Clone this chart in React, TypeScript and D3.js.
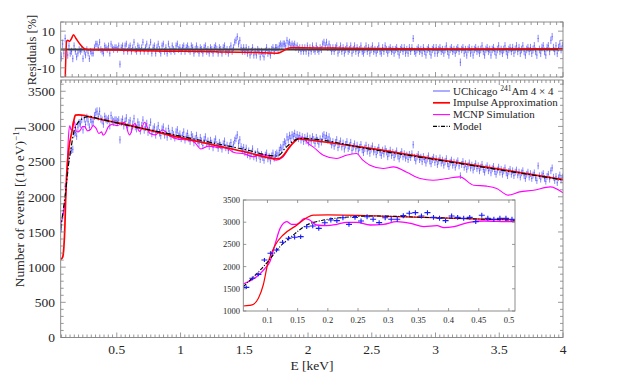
import React from 'react';
import * as d3 from 'd3';

// 10 eV bins, first bin centre at 65 eV
const binStart = 0.065;
const binWidth = 0.01;

// UChicago 241Am 4x4 spectrum, counts per bin
const counts = [
  1533, 1736, 1826, 2149, 2299, 2374, 2547, 2637, 2660, 2674, 2899, 2915, 2862, 2989, 3050,
  3035, 3101, 2952, 3109, 3027, 3124, 3065, 2990, 3101, 3065, 3065, 3147, 3200, 3215, 3140,
  3215, 3109, 3087, 3035, 3140, 3109, 3087, 3109, 3012, 3155, 3087, 3065, 3087, 3087, 3065,
  3090, 2810, 3060, 3100, 3010, 3070, 3120, 2990, 3050, 3080,
  2960, 3030, 3110, 3000, 2970, 3060, 3020, 2940, 3010, 3090,
  2950, 2990, 3040, 2920, 2980, 3060, 2900, 2960, 2990, 2880,
  2950, 3010, 2910, 2870, 2960, 2990, 2880, 2930, 2850, 2970,
  2900, 2860, 2940, 2880, 2840, 2920, 2950, 2860,
  2890, 2830, 2870, 2920, 2810, 2860, 2900, 2830, 2790, 2880,
  2850, 2770, 2820, 2870, 2800, 2760, 2840, 2790, 2730, 2810,
  2850, 2760, 2790, 2720, 2800, 2760, 2700, 2780, 2820, 2740,
  2690, 2770, 2730, 2680, 2750, 2790, 2700, 2730, 2660, 2720,
  2770, 2680, 2740, 2800, 2830, 2880, 2760, 2810, 2710, 2660,
  2700, 2630, 2690, 2600, 2650, 2580, 2620, 2680, 2570, 2610,
  2550, 2640, 2590, 2530, 2600, 2560, 2520, 2590, 2620, 2540,
  2570, 2510, 2580, 2620, 2550, 2600,
  2620, 2590, 2660, 2700, 2680, 2740, 2780, 2760, 2850, 2810,
  2870, 2830, 2880, 2860, 2900, 2840, 2880, 2830, 2870, 2810,
  2850, 2790, 2840, 2800, 2860, 2770, 2830, 2790, 2850, 2810,
  2760, 2840, 2800, 2750, 2820, 2780, 2860, 2880, 2830, 2870,
  2810, 2850, 2790, 2740, 2780, 2720, 2770, 2810, 2700, 2750,
  2790, 2710, 2760, 2680, 2740, 2780, 2690, 2720, 2770, 2660,
  2710, 2750, 2680, 2730, 2650, 2700, 2740, 2670, 2630, 2690,
  2730, 2650, 2700, 2620, 2680, 2720, 2640, 2670, 2600, 2660,
  2700, 2630, 2590, 2660, 2610, 2680, 2640, 2570, 2620, 2660,
  2590, 2630, 2560, 2610, 2650, 2580, 2540, 2600, 2640, 2570,
  2610, 2550, 2590, 2530, 2600, 2560, 2610, 2740, 2560, 2510,
  2570, 2600, 2530, 2560, 2500, 2570, 2530, 2480, 2540, 2580,
  2510, 2470, 2530, 2560, 2490, 2540, 2460, 2510, 2550, 2480,
  2520, 2450, 2500, 2540, 2470, 2430, 2490, 2520, 2450, 2490,
  2420, 2480, 2510, 2440, 2300, 2460, 2500, 2420, 2470, 2390,
  2440, 2480, 2410, 2450, 2380, 2430, 2470, 2400, 2440, 2370,
  2420, 2460, 2390, 2350, 2410, 2440, 2370, 2410, 2340, 2400,
  2430, 2360, 2320, 2380, 2420, 2350, 2390, 2320, 2370, 2410,
  2340, 2300, 2360, 2390, 2320, 2370, 2300, 2350, 2380, 2310,
  2350, 2280, 2340, 2370, 2300, 2260, 2320, 2350, 2280, 2330,
  2260, 2310, 2340, 2270, 2230, 2440, 2300, 2250, 2310, 2330,
  2260, 2220, 2290, 2320, 2250, 2370, 2410, 2280, 2230, 2290,
  2200, 2270, 2310, 2240, 2280,
];

// residuals of the data against the model, in %
const residuals = [
  -4, 3, -2, 6, 3, -3, 2, -2, -1, -5, 2, -1, -4, -2, 0, -1, 0, -5, -1, -3, 0, -2, -5,
  -1, -2, -2, 1, 3, 3, 1, 4, 0, -1, -2, 2, 1, 0, 2, -2, 3, 1, 0, 1, 1, 0,
  2, -8, 1, 2, -1, 2, 3, -1, 1, 2, -1, 1, 4, 0, -1, 2, 1, -1, 1, 4,
  -1, 1, 3, -1, 1, 4, -2, 1, 2, -2, 1, 3, 0, -2, 2, 3, -1, 1, -2, 3,
  0, -1, 2, 0, -1, 2, 3, 0,
  1, -1, 1, 2, -1, 1, 2, 0, -1, 2, 1, -2, 0, 2, 0, -2, 1, 0, -2, 1,
  2, -1, 0, -2, 1, 0, -2, 1, 2, 0, -2, 1, 0, -2, 1, 2, -1, 0, -2, 0,
  2, -1, 1, 4, 5, 7, 3, 5, 1, -1,
  1, -1, 1, -2, 0, -3, -1, 1, -3, -1, -3, 0, -1, -4, -1, -2, -4, -1, 1, -2,
  -1, -3, 0, 1, -1, 1,
  1, 0, 2, 3, 2, 3, 3, 2, 5, 3, 4, 2, 3, 2, 3, 1, 2, 0, 1, -1,
  1, -1, 1, -1, 2, -2, 1, -1, 2, 0,
  -1, 2, 0, -1, 1, 0, 3, 4, 2, 4,
  1, 3, 1, -1, 1, -1, 1, 2, -2, 0,
  2, -1, 1, -2, 0, 2, -1, 0, 2, -2,
  0, 2, -1, 1, -2, 0, 2, -1, -2, 0,
  2, -1, 1, -2, 0, 2, -1, 0, -2, 0,
  2, -1, -2, 1, -1, 2, 0, -2, 0, 1,
  -1, 0, -2, 0, 1, -1, -3, 0, 1, -1,
  1, -2, 0, -2, 1, -1, 1, 6, -1, -2,
  0, 1, -1, 0, -2, 1, -1, -3, 0, 1,
  -1, -3, 0, 1, -2, 1, -2, 0, 1, -1,
  0, -2, 0, 2, -1, -3, 0, 1, -1, 0,
  -2, 0, 1, -1, -7, 0, 1, -2, 0, -3,
  0, 1, -2, 0, -3, 0, 1, -1, 0, -2,
  0, 2, -1, -3, 0, 1, -1, 0, -3, 0,
  1, -1, -3, 0, 2, -1, 0, -2, 0, 2,
  -1, -3, 0, 1, -1, 1, -2, 0, 2, -1,
  1, -2, 0, 2, -1, -3, 0, 1, -1, 1,
  -2, 0, 2, -1, -3, 6, 0, -2, 1, 2,
  -1, -3, 1, 2, -1, 5, 7, 1, -1, 2,
  -2, 1, 3, 0, 2,
];

// model fit (black dash-dot)
const modelE = [0.06, 0.08, 0.1, 0.12, 0.14, 0.165, 0.19, 0.22, 0.28, 0.36, 0.5, 1.0, 1.5, 1.75, 1.78, 1.82, 1.85, 1.88, 1.92, 1.95, 2.5, 3.0, 3.5, 4.0];
const modelN = [1547, 1811, 2100, 2440, 2680, 2937, 3040, 3100, 3140, 3110, 3050, 2862, 2674, 2580, 2600, 2690, 2740, 2790, 2820, 2830, 2672, 2528, 2384, 2240];

// impulse approximation (red)
const impulseE = [0.06, 0.07, 0.077, 0.085, 0.093, 0.1, 0.113, 0.126, 0.149, 0.165, 0.176, 0.2, 0.25, 0.3, 0.4, 0.5, 1.0, 1.5, 1.767, 1.8, 1.85, 1.9, 1.925, 1.96, 2.04, 2.5, 3.0, 3.5, 4.0];
const impulseN = [1113, 1125, 1151, 1286, 1585, 2036, 2486, 2712, 2937, 3100, 3160, 3163, 3155, 3130, 3090, 3055, 2840, 2640, 2540, 2575, 2695, 2795, 2825, 2818, 2800, 2685, 2535, 2392, 2245];

// MCNP simulation (magenta)
const mcnpE = [0.06, 0.082, 0.096, 0.104, 0.113, 0.121, 0.132, 0.14, 0.148, 0.162, 0.17, 0.181, 0.198, 0.215, 0.231, 0.248, 0.27, 0.292, 0.314, 0.337, 0.359, 0.381, 0.392, 0.409, 0.434, 0.459, 0.503,
  0.56, 0.6, 0.64, 0.68, 0.72, 0.76, 0.8, 0.86, 0.92, 0.98, 1.04, 1.1, 1.16, 1.22, 1.3, 1.36, 1.42, 1.5, 1.57, 1.63, 1.68, 1.75, 1.8, 1.86, 1.92, 1.96, 2.0, 2.04, 2.12, 2.225, 2.3, 2.38, 2.43, 2.486, 2.59, 2.67, 2.77, 2.88, 2.98, 3.09, 3.19, 3.3, 3.4, 3.48, 3.57, 3.66, 3.77, 3.9, 4.0];
const mcnpN = [1608, 1773, 1961, 2111, 2524, 2862, 3012, 2952, 2952, 3087, 3050, 2937, 2922, 2952, 2997, 2997, 2937, 2952, 3012, 2975, 2900, 2922, 2877, 2900, 2997, 3027, 3012,
  3060, 2880, 3040, 2930, 3060, 2900, 2880, 2950, 2860, 2820, 2810, 2790, 2680, 2720, 2700, 2690, 2630, 2610, 2570, 2600, 2590, 2520, 2560, 2720, 2830, 2840, 2760, 2709, 2591, 2544, 2591, 2615, 2520, 2449, 2402, 2425, 2354, 2260, 2236, 2260, 2283, 2165, 2151, 2118, 2023, 2070, 2094, 2141, 2056];

// impulse approximation residual (red, top panel)
const impulseResE = [0.06, 0.08, 0.09, 0.1, 0.105, 0.115, 0.13, 0.145, 0.16, 0.18, 0.21, 0.25, 0.3, 0.5, 0.7, 1.0, 1.3, 1.6, 1.76, 1.8, 1.86, 1.95, 2.2, 2.5, 3.0, 3.5, 4.0];
const impulseResV = [-30, -28, -25, -5, 4, 5, 4.5, 6, 8, 6, 3, 0.3, -0.2, -0.3, -0.7, -1, -1.3, -1.7, -2, -1, 1, 1, 0.8, 0.5, 0.3, 0.3, 0.6];

const xTickVals = [0.5, 1, 1.5, 2, 2.5, 3, 3.5, 4];
const yTickVals = [0, 500, 1000, 1500, 2000, 2500, 3000, 3500];
const resTickVals = [-10, 0, 10];
const insetXTickVals = [0.1, 0.15, 0.2, 0.25, 0.3, 0.35, 0.4, 0.45, 0.5];
const insetYTickVals = [1000, 1500, 2000, 2500, 3000, 3500];

const legendItems = ['data', 'impulse', 'mcnp', 'model'];

const W = 623;
const H = 378;
const font = '"Liberation Serif"';
const axisColor = '#808080';
const textColor = '#262626';
const blue = '#2a2aff';
const red = '#ff0000';
const magenta = '#ff00ff';

const x = d3.scaleLinear().domain([0.06, 4]).range([60.7, 563]);
const yRes = d3.scaleLinear().domain([-15, 15]).range([77, 22]);
const yMain = d3.scaleLinear().domain([0, 3660]).range([337.5, 80]);
const xIn = d3.scaleLinear().domain([0.06, 0.51]).range([243.3, 515]);
const yIn = d3.scaleLinear().domain([1000, 3500]).range([311, 200]);

const zip = (a: number[], b: number[]) => a.map((v, i) => [v, b[i]] as [number, number]);

function Frame({ xs, ys, xMajor, xMinor, yMajor, yMinor, maj = 5, min = 3 }: any) {
  const [x0, x1] = xs.range();
  const [y0, y1] = ys.range(); // y0 bottom, y1 top
  const t: string[] = [];
  xMajor.forEach((v: number) => { const p = xs(v); t.push(`M${p},${y0}v${-maj}M${p},${y1}v${maj}`); });
  xMinor.forEach((v: number) => { const p = xs(v); t.push(`M${p},${y0}v${-min}M${p},${y1}v${min}`); });
  yMajor.forEach((v: number) => { const p = ys(v); t.push(`M${x0},${p}h${maj}M${x1},${p}h${-maj}`); });
  yMinor.forEach((v: number) => { const p = ys(v); t.push(`M${x0},${p}h${min}M${x1},${p}h${-min}`); });
  return (
    <g>
      <path d={t.join('')} stroke={axisColor} strokeWidth={0.8} fill="none" />
      <rect x={x0} y={y1} width={x1 - x0} height={y0 - y1} fill="none" stroke={axisColor} strokeWidth={0.9} />
    </g>
  );
}

function minorTicks(domain: number[], step: number, majors: number[]) {
  const out: number[] = [];
  for (let k = Math.ceil(domain[0] / step - 1e-6); k * step <= domain[1] + 1e-9; k++) {
    const v = k * step;
    if (!majors.some((m) => Math.abs(m - v) < 1e-6)) out.push(v);
  }
  return out;
}

const txt = { fontFamily: font, fill: textColor } as const;

export default function App() {
  const points = counts.map((n, i) => ({ e: binStart + i * binWidth, n, r: residuals[i] }));

  const mainLine = d3.line<[number, number]>().x((d) => x(d[0])).y((d) => yMain(d[1])).curve(d3.curveMonotoneX);
  const resLine = d3.line<[number, number]>().x((d) => x(d[0])).y((d) => yRes(d[1])).curve(d3.curveMonotoneX);
  const inLine = d3.line<[number, number]>().x((d) => xIn(d[0])).y((d) => yIn(d[1])).curve(d3.curveMonotoneX);

  const mainBars = points.map((p) => {
    const s = Math.sqrt(p.n);
    return `M${x(p.e)},${yMain(p.n - s)}V${yMain(p.n + s)}M${x(p.e - 0.005)},${yMain(p.n)}H${x(p.e + 0.005)}`;
  }).join('');
  const resBars = points.map((p) => {
    const s = 100 / Math.sqrt(p.n);
    return `M${x(p.e)},${yRes(p.r - s)}V${yRes(p.r + s)}M${x(p.e - 0.005)},${yRes(p.r)}H${x(p.e + 0.005)}`;
  }).join('');
  const inBars = points.filter((p) => p.e < 0.51).map((p) => {
    const s = Math.sqrt(p.n);
    return `M${xIn(p.e)},${yIn(p.n - s)}V${yIn(p.n + s)}M${xIn(p.e - 0.005)},${yIn(p.n)}H${xIn(p.e + 0.005)}`;
  }).join('');

  const model = zip(modelE, modelN);
  const impulse = zip(impulseE, impulseN);
  const mcnp = zip(mcnpE, mcnpN);
  const impulseRes = zip(impulseResE, impulseResV);

  const xMinorMain = minorTicks([0.06, 4], 1 / 30, xTickVals);
  const xMinorRes = minorTicks([0.06, 4], 0.05, xTickVals);
  const yMinorMain = minorTicks([0, 3660], 100, yTickVals);
  const yMinorRes = minorTicks([-15, 15], 5, resTickVals);

  const legendY0 = 91;
  const legendDy = 11.8;

  return (
    <svg width={W} height={H} fontFamily="Liberation Serif" style={{ position: 'absolute', left: 0, top: 0, background: '#fff' }}>
      <defs>
        <clipPath id="clipRes"><rect x={60.7} y={22} width={502.3} height={55} /></clipPath>
        <clipPath id="clipMain"><rect x={60.7} y={80} width={502.3} height={257.5} /></clipPath>
        <clipPath id="clipIn"><rect x={243.3} y={200} width={271.7} height={111} /></clipPath>
      </defs>

      {/* residual panel */}
      <g clipPath="url(#clipRes)">
        <path d={resBars} stroke={blue} strokeOpacity={0.55} strokeWidth={1} fill="none" />
        <line x1={x(0.06)} x2={x(4)} y1={yRes(0)} y2={yRes(0)} stroke="#3d3d3d" strokeWidth={2} />
        <path d={resLine(impulseRes) || ''} stroke={red} strokeWidth={1.5} fill="none" />
      </g>
      <Frame xs={x} ys={yRes} xMajor={xTickVals} xMinor={xMinorRes} yMajor={resTickVals} yMinor={yMinorRes} />
      {resTickVals.map((v) => (
        <text key={v} x={55} y={yRes(v)} dy="0.35em" textAnchor="end" fontSize={13.5} style={txt}>{v < 0 ? `-${-v}` : v}</text>
      ))}
      <text transform={`translate(36,50) rotate(-90)`} textAnchor="middle" fontSize={12.5} style={txt}>Residuals [%]</text>

      {/* main panel */}
      <g clipPath="url(#clipMain)">
        <path d={mainBars} stroke={blue} strokeOpacity={0.55} strokeWidth={1} fill="none" />
        <path d={mainLine(mcnp) || ''} stroke={magenta} strokeWidth={1.1} fill="none" />
        <path d={mainLine(impulse) || ''} stroke={red} strokeWidth={1.7} fill="none" />
        <path d={mainLine(model) || ''} stroke="#000" strokeWidth={1.2} strokeDasharray="5,2,1.5,2" fill="none" />
      </g>
      <Frame xs={x} ys={yMain} xMajor={xTickVals} xMinor={xMinorMain} yMajor={yTickVals} yMinor={yMinorMain} />
      {yTickVals.map((v) => (
        <text key={v} x={55} y={yMain(v)} dy="0.35em" textAnchor="end" fontSize={13.5} style={txt}>{v}</text>
      ))}
      {xTickVals.map((v) => (
        <text key={v} x={x(v)} y={354} textAnchor="middle" fontSize={13.5} style={txt}>{v}</text>
      ))}
      <text x={312} y={370} textAnchor="middle" fontSize={13.5} style={txt}>E [keV]</text>
      <text transform={`translate(24,207) rotate(-90)`} textAnchor="middle" fontSize={13.5} style={txt}>
        Number of events [(10 eV)<tspan dy={-5} fontSize={9}>−1</tspan><tspan dy={5}>]</tspan>
      </text>

      {/* legend */}
      {legendItems.map((k, i) => {
        const yy = legendY0 + i * legendDy;
        const stroke = k === 'data' ? '#6b6bff' : k === 'impulse' ? red : k === 'mcnp' ? magenta : '#000';
        return (
          <g key={k}>
            <line x1={433} x2={450} y1={yy} y2={yy} stroke={stroke} strokeWidth={k === 'impulse' ? 1.7 : 1.1}
              strokeDasharray={k === 'model' ? '4,1.5,1,1.5' : undefined} />
            <text x={453} y={yy} dy="0.33em" fontSize={11} style={txt}>
              {k === 'data' && (<>UChicago <tspan dy={-4} fontSize={7.5}>241</tspan><tspan dy={4}>Am 4 × 4</tspan></>)}
              {k === 'impulse' && 'Impulse Approximation'}
              {k === 'mcnp' && 'MCNP Simulation'}
              {k === 'model' && 'Model'}
            </text>
          </g>
        );
      })}

      {/* inset */}
      <rect x={243.3} y={200} width={271.7} height={111} fill="#fff" />
      <g clipPath="url(#clipIn)">
        <path d={inLine(mcnp.filter((d) => d[0] < 0.6)) || ''} stroke={magenta} strokeWidth={1.3} fill="none" />
        <path d={inLine(impulse.filter((d) => d[0] < 1.1)) || ''} stroke={red} strokeWidth={1.2} fill="none" />
        <path d={inLine(model.filter((d) => d[0] < 1.1)) || ''} stroke="#000" strokeWidth={1.1} strokeDasharray="4,1.5,1,1.5" fill="none" />
        <path d={inBars} stroke="#1a1aff" strokeWidth={1.1} fill="none" />
      </g>
      <Frame xs={xIn} ys={yIn} xMajor={insetXTickVals} xMinor={[]} yMajor={insetYTickVals} yMinor={[]} maj={3} min={2} />
      {insetYTickVals.map((v) => (
        <text key={v} x={240} y={yIn(v)} dy="0.35em" textAnchor="end" fontSize={8.5} style={txt}>{v}</text>
      ))}
      {insetXTickVals.map((v) => (
        <text key={v} x={xIn(v)} y={323} textAnchor="middle" fontSize={8.5} style={txt}>{v}</text>
      ))}
    </svg>
  );
}
